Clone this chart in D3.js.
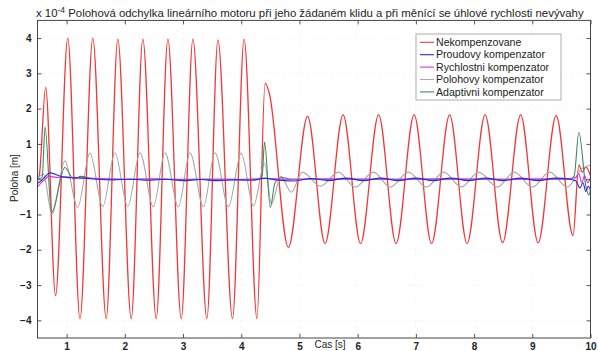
<!DOCTYPE html>
<html>
<head>
<meta charset="utf-8">
<script src="https://cdn.jsdelivr.net/npm/d3@7"></script>
<style>
  body { margin: 0; background: #fff; }
  svg { display: block; font-family: "Liberation Sans", Arial, sans-serif; }
</style>
</head>
<body>
<div id="chart"></div>
<script>
// values are in units of 1e-4 m (turning points of each trace)
const xTicks = [1, 2, 3, 4, 5, 6, 7, 8, 9, 10];
const yTicks = [-4, -3, -2, -1, 0, 1, 2, 3, 4];

const nekompenzovane = [
  [0.5, 0.0], [0.53, 0.1], [0.64, 2.6], [0.81, -3.3], [1.02, 4.0], [1.23, -3.95],
  [1.45, 4.0], [1.68, -3.95], [1.88, 3.97], [2.11, -3.95], [2.31, 3.97], [2.54, -3.95],
  [2.74, 3.97], [2.97, -3.95], [3.17, 3.97], [3.41, -3.95], [3.60, 3.95], [3.85, -3.95],
  [4.05, 3.97], [4.27, -3.95], [4.41, 2.72], [4.48, 2.45], [4.81, -1.93], [5.14, 1.78],
  [5.44, -1.82], [5.75, 1.82], [6.05, -1.82], [6.36, 1.82], [6.66, -1.82], [6.97, 1.82],
  [7.27, -1.82], [7.58, 1.82], [7.88, -1.82], [8.19, 1.82], [8.49, -1.8], [8.80, 1.82],
  [9.10, -1.8], [9.41, 1.8], [9.70, -1.6], [9.80, 0.4], [9.86, 0.2], [9.92, 0.35], [10.0, 0.1]
];

const proudovy = [
  [0.5, -0.12], [0.56, -0.05], [0.72, 0.18], [0.9, 0.08], [1.1, 0.04], [1.3, 0.03],
  [1.5, 0.0], [1.8, -0.02], [2.1, 0.0], [2.4, -0.03], [2.7, 0.0], [3.0, -0.04],
  [3.3, -0.01], [3.6, -0.04], [3.9, -0.02], [4.2, -0.03], [4.4, 0.03], [4.6, -0.02],
  [4.9, -0.05], [5.2, 0.02], [5.5, -0.04], [5.8, 0.03], [6.1, -0.04], [6.4, 0.03],
  [6.7, -0.04], [7.0, 0.03], [7.3, -0.04], [7.6, 0.03], [7.9, -0.04], [8.2, 0.03],
  [8.5, -0.04], [8.8, 0.03], [9.1, -0.04], [9.4, 0.03], [9.65, 0.0], [9.75, -0.05],
  [9.82, -0.25], [9.87, -0.1], [9.92, -0.35], [9.96, -0.2], [10.0, -0.3]
];

const rychlostni = [
  [0.5, -0.22], [0.6, -0.05], [0.7, 0.08], [0.85, 0.05], [1.0, 0.06], [1.3, 0.03],
  [1.6, 0.02], [2.0, 0.0], [2.5, 0.01], [3.0, -0.01], [3.5, 0.0], [4.0, -0.01],
  [4.4, 0.02], [4.8, 0.0], [5.5, 0.01], [6.5, 0.0], [7.5, 0.01], [8.5, 0.0],
  [9.5, 0.01], [9.75, 0.05], [9.8, 0.15], [9.85, -0.1], [9.9, 0.1], [9.95, -0.1], [10.0, 0.05]
];

const polohovy = [
  [0.5, 0.0], [0.6, 0.15], [0.75, -1.0], [0.97, 0.52], [1.19, -0.8], [1.40, 0.74],
  [1.62, -0.78], [1.83, 0.75], [2.05, -0.78], [2.26, 0.75], [2.49, -0.78], [2.69, 0.75],
  [2.92, -0.78], [3.12, 0.75], [3.35, -0.78], [3.55, 0.75], [3.78, -0.78], [4.0, 0.74],
  [4.21, -0.76], [4.40, 0.45], [4.52, -0.7], [4.68, 0.08], [4.86, -0.37], [5.05, 0.2],
  [5.36, -0.2], [5.67, 0.2], [5.96, -0.22], [6.27, 0.2], [6.56, -0.22], [6.87, 0.2],
  [7.18, -0.22], [7.48, 0.2], [7.78, -0.22], [8.08, 0.2], [8.40, -0.22], [8.69, 0.2],
  [9.0, -0.22], [9.30, 0.2], [9.6, -0.22], [9.85, 0.3], [10.0, 0.4]
];

const adaptivni = [
  [0.5, 0.0], [0.58, 0.05], [0.63, 1.48], [0.74, -0.95], [0.97, 0.33], [1.12, 0.0],
  [1.25, 0.08], [1.45, 0.02], [1.7, 0.0], [4.3, 0.0], [4.36, 0.1], [4.40, 1.05],
  [4.50, -0.8], [4.58, -0.1], [4.7, 0.05], [4.85, 0.0], [9.65, 0.0], [9.72, 0.1],
  [9.80, 1.33], [9.92, -0.2], [9.97, -0.45], [10.0, -0.3]
];

const series = [
  { name: "Nekompenzovane", color: "#f03838", values: nekompenzovane },
  { name: "Proudovy kompenzator", color: "#2a2ae0", values: proudovy },
  { name: "Rychlostni kompenzator", color: "#e030e0", values: rychlostni },
  { name: "Polohovy kompenzator", color: "#a8a8a8", values: polohovy },
  { name: "Adaptivni kompenzator", color: "#3d8a5e", values: adaptivni }
];
// draw order: red first, then gray, green, magenta, blue on top
const drawOrder = [0, 3, 4, 2, 1];

const W = 598, H = 351;
const plotL = 37.5, plotR = 590.5, plotT = 20.4, plotB = 338;

const svg = d3.select("#chart").append("svg").attr("width", W).attr("height", H);

const x = d3.scaleLinear().domain([0.5, 10]).range([plotL, plotR]);
const y = d3.scaleLinear().domain([-4.5, 4.5]).range([plotB, plotT]);

// faint dotted grid
const grid = svg.append("g").attr("stroke", "#d8d8d8").attr("stroke-width", 0.6).attr("stroke-dasharray", "1,5");
grid.selectAll(".gx").data(xTicks.slice(0, -1)).join("line")
  .attr("x1", d => x(d)).attr("x2", d => x(d)).attr("y1", plotT).attr("y2", plotB);
grid.selectAll(".gy").data(yTicks).join("line")
  .attr("x1", plotL).attr("x2", plotR).attr("y1", d => y(d)).attr("y2", d => y(d));

svg.append("clipPath").attr("id", "plot")
  .append("rect").attr("x", plotL).attr("y", plotT).attr("width", plotR - plotL).attr("height", plotB - plotT);

const line = d3.line().x(d => x(d[0])).y(d => y(d[1])).curve(d3.curveMonotoneX);

svg.append("g").attr("clip-path", "url(#plot)")
  .selectAll("path").data(drawOrder.map(i => series[i])).join("path")
  .attr("d", d => line(d.values))
  .attr("fill", "none")
  .attr("stroke", d => d.color)
  .attr("stroke-width", d => d.name === "Nekompenzovane" ? 1.3 : 1.1)
  .attr("stroke-linejoin", "round");

// axes with inward ticks, MATLAB style box
const tickLen = 4;
svg.append("g").attr("transform", `translate(0,${plotB})`)
  .call(d3.axisBottom(x).tickValues(xTicks).tickSizeInner(-tickLen).tickSizeOuter(0).tickPadding(5).tickFormat(d3.format("d")))
  .call(g => g.select(".domain").remove())
  .call(g => g.selectAll(".tick text").attr("font-size", "10px").attr("font-weight", "bold").attr("fill", "#222"));
svg.append("g").attr("transform", `translate(0,${plotT})`)
  .call(d3.axisTop(x).tickValues(xTicks).tickSizeInner(-tickLen).tickSizeOuter(0).tickFormat(""))
  .call(g => g.select(".domain").remove());
svg.append("g").attr("transform", `translate(${plotL},0)`)
  .call(d3.axisLeft(y).tickValues(yTicks).tickSizeInner(-tickLen).tickSizeOuter(0).tickPadding(6).tickFormat(d3.format("d")))
  .call(g => g.select(".domain").remove())
  .call(g => g.selectAll(".tick text").attr("font-size", "10px").attr("font-weight", "bold").attr("fill", "#222"));
svg.append("g").attr("transform", `translate(${plotR},0)`)
  .call(d3.axisRight(y).tickValues(yTicks).tickSizeInner(-tickLen).tickSizeOuter(0).tickFormat(""))
  .call(g => g.select(".domain").remove());
svg.selectAll(".tick line").attr("stroke", "#555");

svg.append("rect").attr("x", plotL).attr("y", plotT).attr("width", plotR - plotL).attr("height", plotB - plotT)
  .attr("fill", "none").attr("stroke", "#444").attr("stroke-width", 1);

// exponent and title
const title = svg.append("text").attr("x", 36).attr("y", 17).attr("font-size", "11.4px").attr("fill", "#222");
title.append("tspan").text("x 10");
title.append("tspan").attr("dy", -4.5).attr("font-size", "8.5px").text("-4");
title.append("tspan").attr("dy", 4.5).text(" Polohová odchylka lineárního motoru při jeho žádaném klidu a při měnící se úhlové rychlosti nevývahy");

svg.append("text").attr("x", 330).attr("y", 348).attr("text-anchor", "middle")
  .attr("font-size", "10px").attr("fill", "#222").text("Cas [s]");
svg.append("text").attr("transform", "translate(18,178) rotate(-90)").attr("text-anchor", "middle")
  .attr("font-size", "10px").attr("fill", "#222").text("Poloha [m]");

// legend
const lg = svg.append("g");
lg.append("rect").attr("x", 416).attr("y", 34).attr("width", 145).attr("height", 66)
  .attr("fill", "#fff").attr("stroke", "#999").attr("stroke-width", 0.8);
const items = lg.selectAll(".item").data(series).join("g")
  .attr("transform", (d, i) => `translate(420,${42.3 + i * 12.4})`);
items.append("line").attr("x1", 0).attr("x2", 14).attr("stroke", d => d.color).attr("stroke-width", 1.1);
items.append("text").attr("x", 16).attr("dy", "0.35em").attr("font-size", "10.6px").attr("fill", "#222")
  .text(d => d.name);
</script>
</body>
</html>
